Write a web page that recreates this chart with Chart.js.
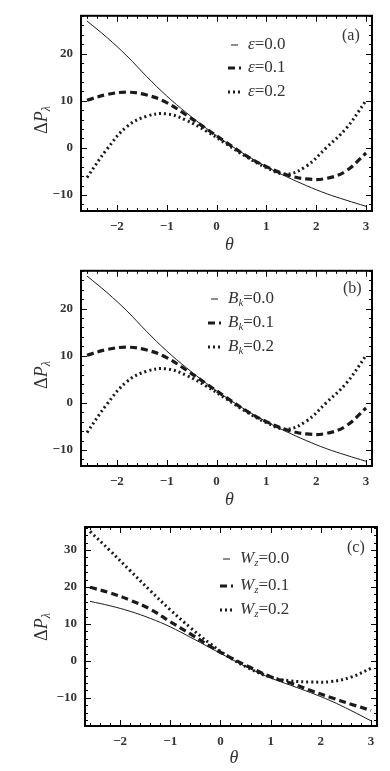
<!DOCTYPE html>
<html>
<head>
<meta charset="utf-8">
<script src="https://cdn.jsdelivr.net/npm/chart.js@4.4.1/dist/chart.umd.min.js"></script>
<style>
  html, body { margin: 0; padding: 0; background: #fff; }
  body { width: 390px; height: 771px; position: relative; overflow: hidden; }
  canvas { position: absolute; left: 0; }
</style>
</head>
<body>
<canvas id="pa" width="390" height="255" style="top:0px"></canvas>
<canvas id="pb" width="390" height="255" style="top:255px"></canvas>
<canvas id="pc" width="390" height="261" style="top:510px"></canvas>
<script>
// theta samples
const theta = [-2.6, -2.2, -1.8, -1.4, -1.0, -0.6, -0.2, 0.2, 0.6, 1.0, 1.4, 1.8, 2.2, 2.6, 3.0];

// panel (a): epsilon
const aEps00 = [26.9, 23.4, 19.5, 15.1, 11.0, 7.4, 4.1, 1.1, -1.6, -4.0, -6.1, -8.0, -9.7, -11.1, -12.4];
const aEps01 = [10.1, 11.3, 11.8, 11.2, 9.6, 6.9, 4.0, 1.1, -1.7, -4.0, -5.7, -6.6, -6.5, -4.9, -1.1];
const aEps02 = [-6.3, -0.3, 4.5, 6.7, 7.2, 5.8, 3.5, 0.8, -1.9, -4.2, -5.6, -3.9, 0.0, 4.1, 10.0];

// panel (b): B_k (same curves as (a))
const bBk00 = [26.9, 23.4, 19.5, 15.1, 11.0, 7.4, 4.1, 1.1, -1.6, -4.0, -6.1, -8.0, -9.7, -11.1, -12.4];
const bBk01 = [10.1, 11.3, 11.8, 11.2, 9.6, 6.9, 4.0, 1.1, -1.7, -4.0, -5.7, -6.6, -6.5, -4.9, -1.1];
const bBk02 = [-6.3, -0.3, 4.5, 6.7, 7.2, 5.8, 3.5, 0.8, -1.9, -4.2, -5.6, -3.9, 0.0, 4.1, 10.0];

// panel (c): W_z
const cWz00 = [16.1, 14.9, 13.4, 11.5, 9.2, 6.4, 3.5, 0.6, -2.2, -4.6, -6.6, -8.6, -10.8, -13.4, -16.2];
const cWz01 = [19.9, 18.4, 16.4, 14.0, 10.6, 7.3, 3.9, 0.9, -1.8, -4.3, -6.0, -8.0, -9.9, -11.7, -13.4];
const cWz02 = [35.0, 29.8, 24.4, 19.0, 13.8, 9.0, 4.6, 0.8, -2.2, -4.4, -5.4, -5.7, -5.6, -4.4, -2.0];

const paramValues = ['0.0', '0.1', '0.2'];
const xTicks = [-2, -1, 0, 1, 2, 3];
const yTicksAB = [-10, 0, 10, 20];
const yTicksC = [-10, 0, 10, 20, 30];

const SERIF = '"Liberation Serif", "DejaVu Serif", serif';
const INK = '#1a1a1a';
const TXT = '#333';
const styles = [
  { w: 1, dash: [] },
  { w: 3.2, dash: [7, 4] },
  { w: 3, dash: [2, 3] }
];

function fmt(v) { return v < 0 ? '\u2212' + Math.abs(v) : String(v); }

// draw text made of pieces (for subscripts / italics)
function drawRich(ctx, parts, x, y) {
  let cx = x;
  parts.forEach(p => {
    ctx.font = p.font;
    ctx.fillText(p.t, cx, y + (p.dy || 0));
    cx += ctx.measureText(p.t).width;
  });
}

const framePlugin = {
  id: 'frame',
  afterDatasetsDraw(chart, args, o) {
    const ctx = chart.ctx, a = chart.chartArea;
    const xs = chart.scales.x, ys = chart.scales.y;
    ctx.save();
    ctx.strokeStyle = '#000';
    // ticks inward on all four sides
    ctx.lineWidth = 1;
    const tick = (x1, y1, x2, y2) => { ctx.beginPath(); ctx.moveTo(x1, y1); ctx.lineTo(x2, y2); ctx.stroke(); };
    for (let v = Math.ceil(xs.min * 5) / 5; v <= xs.max; v += 0.2) {
      const px = Math.round(xs.getPixelForValue(v)) + 0.5;
      const major = Math.abs(v - Math.round(v)) < 1e-6;
      const L = major ? 6 : 3;
      tick(px, a.bottom, px, a.bottom - L);
      tick(px, a.top, px, a.top + L);
    }
    for (let v = Math.ceil(ys.min / 2) * 2; v <= ys.max; v += 2) {
      const py = Math.round(ys.getPixelForValue(v)) + 0.5;
      const major = v % 10 === 0;
      const L = major ? 6 : 3;
      tick(a.left, py, a.left + L, py);
      tick(a.right, py, a.right - L, py);
    }
    ctx.lineWidth = 2;
    ctx.strokeRect(a.left, a.top, a.right - a.left, a.bottom - a.top);

    // panel tag
    ctx.fillStyle = TXT;
    ctx.textBaseline = 'middle';
    ctx.textAlign = 'left';
    ctx.font = '16px ' + SERIF;
    ctx.fillText(o.tag, o.tagX, o.tagY);

    // legend
    chart.data.datasets.forEach((ds, i) => {
      const y = o.legY[i];
      ctx.save();
      ctx.strokeStyle = ds.borderColor;
      ctx.lineWidth = ds.borderWidth;
      ctx.setLineDash(ds.borderDash);
      ctx.beginPath();
      const x0 = i === 0 ? o.legX + 3 : o.legX;
      ctx.moveTo(x0, y);
      ctx.lineTo(o.legX + (i === 0 ? 10 : 13), y);
      ctx.stroke();
      ctx.restore();
      drawRich(ctx, o.label(paramValues[i]), o.legX + 20, y);
    });

    // axis titles
    ctx.textAlign = 'center';
    ctx.font = 'italic 18px ' + SERIF;
    ctx.fillText('\u03b8', (a.left + a.right) / 2 + 3, a.bottom + o.thetaOff);
    ctx.save();
    ctx.translate(42, o.yTitleY);
    ctx.rotate(-Math.PI / 2);
    ctx.textAlign = 'left';
    const yParts = [
      { t: '\u0394', font: '18px ' + SERIF },
      { t: 'P', font: 'italic 18px ' + SERIF },
      { t: '\u03bb', font: 'italic 12px ' + SERIF, dy: 5 }
    ];
    let w = 0;
    yParts.forEach(p => { ctx.font = p.font; w += ctx.measureText(p.t).width; });
    drawRich(ctx, yParts, -w / 2, 0);
    ctx.restore();
    ctx.restore();
  }
};

function makePanel(id, series, p) {
  new Chart(document.getElementById(id), {
    type: 'line',
    data: {
      datasets: series.map((s, i) => ({
        data: theta.map((t, j) => ({ x: t, y: s[j] })),
        borderColor: INK,
        borderWidth: styles[i].w,
        borderDash: styles[i].dash,
        borderCapStyle: 'butt',
        pointRadius: 0,
        tension: 0.4,
        fill: false
      }))
    },
    options: {
      responsive: false,
      animation: false,
      events: [],
      layout: { padding: { top: p.top, right: p.right, left: 0, bottom: 0 } },
      plugins: { legend: { display: false }, tooltip: { enabled: false }, frame: p.frame },
      scales: {
        x: {
          type: 'linear', min: p.xMin, max: p.xMax,
          afterBuildTicks: s => { s.ticks = xTicks.map(v => ({ value: v })); },
          afterFit: s => { s.height = p.xH; },
          grid: { display: false, drawTicks: false },
          border: { display: false },
          ticks: { padding: 8, color: TXT, font: { family: SERIF, size: 13, weight: 'bold' }, callback: v => fmt(v) }
        },
        y: {
          type: 'linear', min: p.yMin, max: p.yMax,
          afterBuildTicks: s => { s.ticks = p.yTicks.map(v => ({ value: v })); },
          afterFit: s => { s.width = p.yW; },
          grid: { display: false, drawTicks: false },
          border: { display: false },
          ticks: { padding: 8, color: TXT, font: { family: SERIF, size: 13, weight: 'bold' }, callback: v => fmt(v) }
        }
      }
    },
    plugins: [framePlugin]
  });
}

const it = s => 'italic ' + s + 'px ' + SERIF;
const rm = s => s + 'px ' + SERIF;

makePanel('pa', [aEps00, aEps01, aEps02], {
  top: 14, right: 18, xH: 44, yW: 81, xMin: -2.72, xMax: 3.12, yMin: -13.4, yMax: 28, yTicks: yTicksAB,
  frame: {
    tag: '(a)', tagX: 342, tagY: 36, legX: 228, legY: [45, 68, 92], thetaOff: 34, yTitleY: 120,
    label: v => [{ t: '\u03b5', font: it(17) }, { t: '=' + v, font: rm(17) }]
  }
});

makePanel('pb', [bBk00, bBk01, bBk02], {
  top: 14, right: 18, xH: 44, yW: 81, xMin: -2.72, xMax: 3.12, yMin: -13.4, yMax: 28, yTicks: yTicksAB,
  frame: {
    tag: '(b)', tagX: 343, tagY: 34, legX: 208, legY: [44, 68, 92], thetaOff: 34, yTitleY: 120,
    label: v => [{ t: 'B', font: it(17) }, { t: 'k', font: it(11), dy: 4 }, { t: '=' + v, font: rm(17) }]
  }
});

makePanel('pc', [cWz00, cWz01, cWz02], {
  top: 17, right: 13, xH: 45, yW: 85, xMin: -2.7, xMax: 3.12, yMin: -17.6, yMax: 36.2, yTicks: yTicksC,
  frame: {
    tag: '(c)', tagX: 347, tagY: 38, legX: 220, legY: [49, 76, 100], thetaOff: 32, yTitleY: 117,
    label: v => [{ t: 'W', font: it(17) }, { t: 'z', font: it(11), dy: 4 }, { t: '=' + v, font: rm(17) }]
  }
});
</script>
</body>
</html>
